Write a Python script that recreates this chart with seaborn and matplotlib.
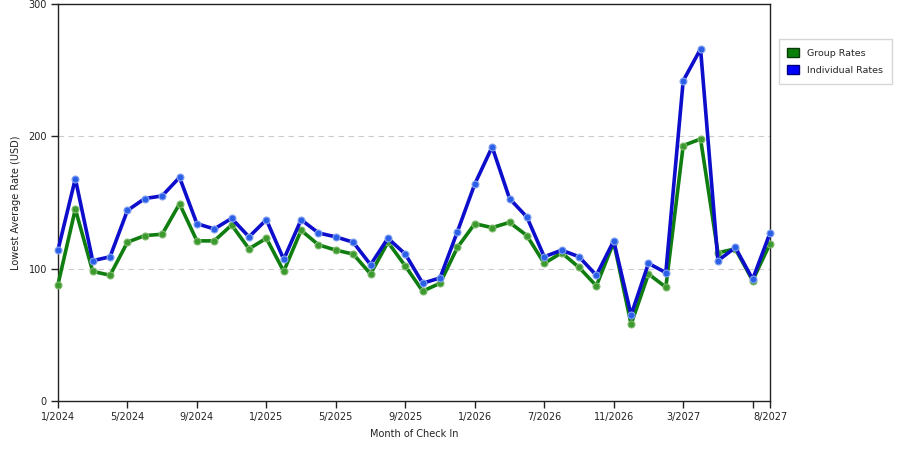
import numpy as np
import pandas as pd
import matplotlib
matplotlib.use("Agg")
import matplotlib.pyplot as plt
from matplotlib.patches import Patch
import seaborn as sns

# Months of check-in (two months missing in spring 2026)
months = (
    [f"{m}/2024" for m in range(1, 13)]
    + [f"{m}/2025" for m in range(1, 13)]
    + ["1/2026", "2/2026", "3/2026", "4/2026"]
    + [f"{m}/2026" for m in range(7, 13)]
    + [f"{m}/2027" for m in range(1, 9)]
)

group_rates = [
    88, 145, 98, 95, 120, 125, 126, 149, 121, 121, 133, 115,
    123, 98, 129, 118, 114, 111, 96, 120, 102, 83, 89, 116,
    134, 131, 135, 125, 104, 112, 101, 87, 120, 58, 96, 86,
    193, 198, 112, 115, 91, 119,
]
individual_rates = [
    114, 168, 106, 109, 144, 153, 155, 169, 134, 130, 138, 124,
    137, 107, 137, 127, 124, 120, 103, 123, 111, 89, 93, 128,
    164, 192, 153, 139, 109, 114, 109, 95, 121, 65, 104, 97,
    242, 266, 106, 116, 92, 127,
]

tick_labels = ["1/2024", "5/2024", "9/2024", "1/2025", "5/2025", "9/2025",
               "1/2026", "7/2026", "11/2026", "3/2027", "", "8/2027"]

df = pd.DataFrame({
    "idx": np.arange(len(months)),
    "month": months,
    "group": group_rates,
    "individual": individual_rates,
})

sns.set_style("white")
plt.rcParams["font.family"] = ["DejaVu Sans"]

fig = plt.figure(figsize=(9, 4.5), dpi=100)
ax = fig.add_axes([0.0644, 0.1089, 0.7912, 0.8822])

# Group rates in green, individual rates in blue on top
sns.lineplot(data=df, x="idx", y="group", ax=ax, color="#0f7d0f", linewidth=2.6,
             marker="o", markersize=5, markerfacecolor="#3d9a2e",
             markeredgecolor="#80bb70", markeredgewidth=0.8, zorder=3, clip_on=False)
sns.lineplot(data=df, x="idx", y="individual", ax=ax, color="#0d0dcc", linewidth=2.6,
             marker="o", markersize=5, markerfacecolor="#2b5fe8",
             markeredgecolor="#85a3f0", markeredgewidth=0.8, zorder=4, clip_on=False)

ax.set_xlim(0, len(months) - 1)
ax.set_ylim(0, 300)
ax.set_yticks([0, 100, 200, 300])

tick_pos = [months.index(t) if t else 40 for t in tick_labels]
ax.set_xticks(tick_pos)
ax.set_xticklabels(tick_labels)

ax.tick_params(axis="both", bottom=True, left=True, direction="out", length=5,
               width=1, color="#222222", labelsize=7, labelcolor="#222222", pad=3)
for s in ax.spines.values():
    s.set_color("#222222")
    s.set_linewidth(1)

for yv in [100, 200]:
    ax.axhline(yv, color="#cccccc", linewidth=0.8, linestyle=(0, (5, 4)), zorder=1)

ax.set_xlabel("Month of Check In", fontsize=7, color="#222222", labelpad=5)
ax.set_ylabel("Lowest Average Rate (USD)", fontsize=7, color="#222222", labelpad=5)

handles = [Patch(facecolor="#0a800a", edgecolor="#0a3a0a", label="Group Rates"),
           Patch(facecolor="#0000ff", edgecolor="#00007a", label="Individual Rates")]
leg = fig.legend(handles=handles, loc="upper left", bbox_to_anchor=(0.865, 0.914),
                 fontsize=6.8, frameon=True, fancybox=False, handlelength=1.2,
                 handleheight=1.2, borderpad=0.95, labelspacing=0.75, handletextpad=0.9,
                 borderaxespad=0)
leg.get_frame().set_edgecolor("#cccccc")
leg.get_frame().set_linewidth(1)

fig.savefig("out.png", dpi=100)
